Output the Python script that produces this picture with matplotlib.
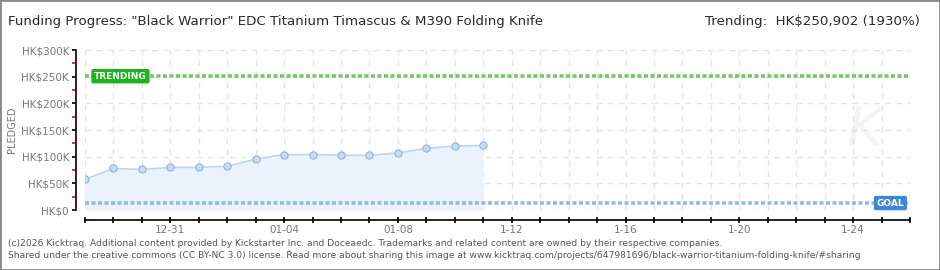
import matplotlib
matplotlib.use('Agg')
import matplotlib.pyplot as plt
import matplotlib.transforms as mtransforms
from matplotlib.patches import Rectangle
from matplotlib.ticker import MultipleLocator
import numpy as np

plt.rcParams['text.parse_math'] = False

# daily pledged totals (HK$)
dates = np.array(['2025-12-28', '2025-12-29', '2025-12-30', '2025-12-31', '2026-01-01',
                  '2026-01-02', '2026-01-03', '2026-01-04', '2026-01-05', '2026-01-06',
                  '2026-01-07', '2026-01-08', '2026-01-09', '2026-01-10', '2026-01-11'],
                 dtype='datetime64[D]')
pledged = [57500, 78000, 76000, 80000, 80000, 82000, 95500, 104000, 104000, 102500,
           102500, 107000, 115500, 120000, 121000]
goal = 13000
trending = 250902
axis_start = np.datetime64('2025-12-28')
axis_end = np.datetime64('2026-01-26')
label_days = ['2025-12-31', '2026-01-04', '2026-01-08', '2026-01-12',
              '2026-01-16', '2026-01-20', '2026-01-24']
label_text = ['12-31', '01-04', '01-08', '1-12', '1-16', '1-20', '1-24']
y_ticks = [0, 50000, 100000, 150000, 200000, 250000, 300000]
y_labels = ['HK$0', 'HK$50K', 'HK$100K', 'HK$150K', 'HK$200K', 'HK$250K', 'HK$300K']

title = 'Funding Progress: "Black Warrior" EDC Titanium Timascus & M390 Folding Knife'
trend_text = 'Trending:  HK$250,902 (1930%)'
footer1 = ('(c)2026 Kicktraq. Additional content provided by Kickstarter Inc. and Doceaedc. '
           'Trademarks and related content are owned by their respective companies.')
footer2 = ('Shared under the creative commons (CC BY-NC 3.0) license. Read more about sharing '
           'this image at www.kicktraq.com/projects/647981696/black-warrior-titanium-folding-knife/#sharing')

grey = '#777777'

fig = plt.figure(figsize=(9.4, 2.7), dpi=100)
ax = fig.add_axes([85 / 940, 1 - 210 / 270, 825 / 940, 160 / 270])

# grid
ax.set_axisbelow(True)
ax.grid(True, color='#e2e2e2', linestyle=(0, (4, 4)), linewidth=1)

# area + line
ax.fill_between(dates, pledged, 0, color='#eaf3fc', linewidth=0, zorder=1)
ax.plot(dates, pledged, color='#bcd6f2', linewidth=1.2, zorder=2)
ax.plot(dates, pledged, 'o', markersize=5.2, markerfacecolor='#c6dcf6',
        markeredgecolor='#93b2d9', markeredgewidth=0.8, zorder=4)

# trending / goal lines
ax.axhline(trending, color='#74c866', linewidth=2.6, linestyle=(0, (1.1, 0.7)), zorder=3)
ax.axhline(goal, color='#90bbe8', linewidth=2.6, linestyle=(0, (1.1, 0.7)), zorder=3)

blend = mtransforms.blended_transform_factory(ax.transAxes, ax.transData)
ax.text(0.011, trending, 'TRENDING', transform=blend, ha='left', va='center',
        color='white', fontsize=6.5, fontweight='bold', zorder=6,
        bbox=dict(boxstyle='round,pad=0.3,rounding_size=0.2', fc='#1db41d', ec='none'))
ax.text(0.993, goal, 'GOAL', transform=blend, ha='right', va='center',
        color='white', fontsize=6.5, fontweight='bold', zorder=6,
        bbox=dict(boxstyle='round,pad=0.3,rounding_size=0.2', fc='#3b89d6', ec='none'))

# watermark
ax.text(0.945, 0.5, 'K', transform=ax.transAxes, fontsize=40, fontstyle='italic',
        color='#f4f4f4', ha='center', va='center', zorder=0)

# axes
ax.set_xlim(axis_start, axis_end)
ax.set_ylim(0, 300000)
all_days = np.arange(axis_start, axis_end + 1)
label_map = dict(zip(np.array(label_days, dtype='datetime64[D]'), label_text))
ax.set_xticks(all_days)
ax.set_xticklabels([label_map.get(d, '') for d in all_days])
ax.set_yticks(y_ticks)
ax.set_yticklabels(y_labels)
ax.yaxis.set_minor_locator(MultipleLocator(25000))

for s in ['top', 'right']:
    ax.spines[s].set_visible(False)
ax.spines['left'].set_position(('outward', 6.5))
ax.spines['bottom'].set_position(('outward', 7.2))
ax.spines['left'].set_linewidth(1.2)
ax.spines['bottom'].set_linewidth(1.2)
ax.tick_params(axis='y', which='major', length=3, width=1.2, color='black',
               labelsize=7.5, labelcolor=grey, pad=2)
ax.tick_params(axis='y', which='minor', length=3, width=1.2, color='red')
ax.tick_params(axis='x', which='major', length=5, direction='inout', width=1.2,
               color='black', labelsize=7.5, labelcolor=grey, pad=1)
ax.grid(False, which='minor')

# texts
fig.text(12 / 940, 1 - 130 / 270, 'PLEDGED', rotation=90, ha='center', va='center',
         fontsize=7, color=grey)
fig.text(8 / 940, 1 - 22 / 270, title, ha='left', va='center', fontsize=9.6,
         color='#2a2a2a')
fig.text(920 / 940, 1 - 22 / 270, trend_text, ha='right', va='center', fontsize=9.6,
         color='#2a2a2a')
fig.text(8 / 940, 1 - 243 / 270, footer1, ha='left', va='center', fontsize=6.6, color='#555555')
fig.text(8 / 940, 1 - 256 / 270, footer2, ha='left', va='center', fontsize=6.6, color='#555555')

fig.patches.append(Rectangle((0, 0), 1, 1, transform=fig.transFigure, fill=False,
                             edgecolor='#888888', linewidth=2))

fig.savefig('out.png', dpi=100)
